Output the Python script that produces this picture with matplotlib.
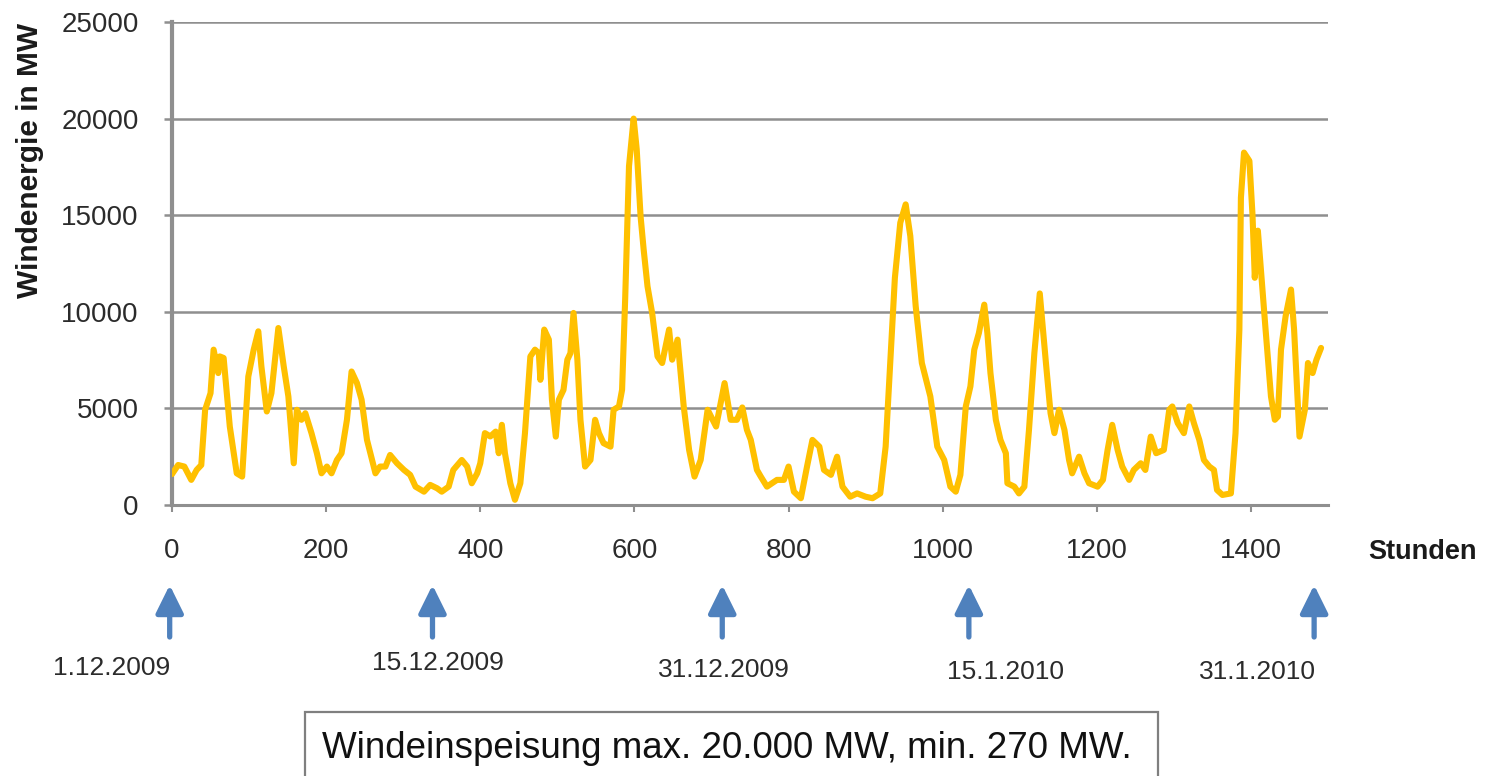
import matplotlib
matplotlib.use("Agg")
import matplotlib.pyplot as plt
from matplotlib.patches import Rectangle

plt.rcParams["font.family"] = ["Liberation Sans", "DejaVu Sans"]

# Stundenwerte der Windeinspeisung (Dezember 2009 - Januar 2010)
hours = [
    0, 8, 16, 25, 32, 38, 43, 50, 54, 60, 62, 67, 75, 84, 91, 99, 106, 112, 116, 123,
    129, 138, 145, 151, 158, 162, 168, 173, 181, 188, 194, 201, 207, 214, 220, 227,
    233, 240, 246, 253, 264, 270, 277, 283, 292, 301, 309, 316, 327, 335, 344, 350,
    359, 365, 376, 383, 389, 396, 400, 406, 413, 420, 424, 428, 432, 439, 445, 452,
    458, 465, 471, 476, 478, 483, 489, 493, 498, 502, 508, 513, 517, 521, 526, 530,
    536, 543, 549, 554, 560, 569, 573, 580, 584, 588, 593, 599, 603, 608, 612, 617,
    623, 630, 636, 645, 649, 656, 664, 671, 678, 686, 695, 706, 717, 725, 733, 740,
    746, 751, 759, 764, 772, 785, 794, 800, 807, 816, 824, 831, 840, 846, 855, 863,
    870, 880, 889, 900, 909, 919, 926, 932, 938, 945, 952, 958, 965, 973, 984, 993,
    1002, 1010, 1017, 1023, 1030, 1036, 1041, 1047, 1054, 1058, 1062, 1069, 1075,
    1082, 1084, 1093, 1099, 1106, 1112, 1119, 1126, 1134, 1140, 1145, 1151, 1158,
    1164, 1168, 1177, 1184, 1190, 1201, 1208, 1214, 1220, 1227, 1233, 1242, 1248,
    1257, 1263, 1270, 1277, 1287, 1294, 1298, 1305, 1313, 1320, 1326, 1333, 1339,
    1346, 1352, 1356, 1363, 1374, 1380, 1385, 1387, 1391, 1398, 1402, 1405, 1409,
    1413, 1419, 1426, 1431, 1435, 1439, 1445, 1452, 1456, 1463, 1470, 1474, 1480,
    1485, 1491,
]
wind_mw = [
    1600, 2070, 1990, 1300, 1815, 2070, 4930, 5790, 8040, 6830, 7690, 7610, 4060, 1640,
    1470, 6650, 8040, 8990, 7170, 4840, 5790, 9160, 7170, 5620, 2160, 4930, 4410, 4750,
    3720, 2680, 1640, 1990, 1640, 2330, 2680, 4410, 6910, 6310, 5450, 3370, 1640, 1990,
    1990, 2590, 2160, 1815, 1560, 950, 690, 1040, 865, 690, 950, 1815, 2330, 1990, 1125,
    1640, 2160, 3720, 3550, 3800, 2680, 4150, 2680, 1125, 270, 1125, 3720, 7690, 8040,
    7860, 6480, 9080, 8560, 5450, 3540, 5450, 5960, 7520, 7860, 9940, 7520, 4410, 1990,
    2330, 4410, 3720, 3200, 3020, 4930, 5100, 5960, 10630, 17540, 20000, 18410, 14950,
    13230, 11320, 9940, 7690, 7350, 9080, 7520, 8560, 5100, 2850, 1470, 2330, 4930,
    4060, 6310, 4410, 4410, 5050, 3890, 3370, 1815, 1470, 950, 1300, 1300, 1990, 690,
    350, 1990, 3370, 3020, 1815, 1560, 2500, 950, 430, 600, 430, 350, 600, 3020, 7350,
    11760, 14610, 15560, 13920, 10290, 7350, 5620, 3020, 2330, 950, 690, 1560, 5100,
    6140, 8040, 8900, 10370, 8900, 6830, 4410, 3370, 2680, 1125, 950, 600, 950, 3890,
    7870, 10950, 7350, 4750, 3720, 4930, 3890, 2330, 1640, 2500, 1640, 1125, 950, 1300,
    2850, 4150, 2850, 1990, 1300, 1815, 2160, 1815, 3540, 2680, 2850, 4930, 5100, 4240,
    3720, 5100, 4240, 3370, 2330, 1990, 1815, 780, 520, 600, 3720, 9080, 15910, 18240,
    17810, 15040, 11760, 14200, 12140, 9080, 5620, 4410, 4580, 8040, 9770, 11150, 9080,
    3540, 4930, 7350, 6830, 7520, 8130,
]

x_ticks = [0, 200, 400, 600, 800, 1000, 1200, 1400]
y_ticks = [0, 5000, 10000, 15000, 20000, 25000]

# Datumsmarken unter der Zeitachse
arrow_hours = [-3, 338, 714, 1034, 1482]
date_labels = ["1.12.2009", "15.12.2009", "31.12.2009", "15.1.2010", "31.1.2010"]
date_label_hours = [-78, 345, 716, 1081, 1409]
date_label_y = [108, 113, 106, 104, 104]

summary = "Windeinspeisung max. 20.000 MW, min. 270 MW."

W, H = 1500, 776
fig = plt.figure(figsize=(W / 100, H / 100), dpi=100)
ax = fig.add_axes([172 / W, (H - 505) / H, (1328 - 172) / W, (505 - 22) / H])

grid_col = "#8f8f8f"
text_col = "#2b2b2b"

ax.plot(hours, wind_mw, color="#ffc000", lw=4.4, solid_joinstyle="round",
        solid_capstyle="round", zorder=3)

ax.set_xlim(0, 1500)
ax.set_ylim(0, 25000)
ax.set_xticks(x_ticks)
ax.set_yticks(y_ticks)
ax.yaxis.grid(True, color=grid_col, lw=1.8)
ax.set_axisbelow(True)

for side in ["top", "right"]:
    ax.spines[side].set_visible(False)
ax.spines["left"].set_color(grid_col)
ax.spines["left"].set_linewidth(3)
ax.spines["bottom"].set_color(grid_col)
ax.spines["bottom"].set_linewidth(2.2)

ax.tick_params(axis="y", length=6, width=1.8, color=grid_col, pad=18,
               labelsize=20, labelcolor=text_col)
ax.tick_params(axis="x", length=5, width=1.5, color=grid_col, pad=19,
               labelsize=20, labelcolor=text_col)

fig.text(30 / W, 1 - 160 / H, "Windenergie in MW", rotation=90, ha="center",
         va="center", fontsize=21.5, fontweight="bold", color="#1a1a1a")
fig.text(1368 / W, 1 - 552 / H, "Stunden", ha="left", va="center",
         fontsize=19.5, fontweight="bold", color="#1a1a1a")

# Pfeile und Datumsangaben
for h in arrow_hours:
    ax.annotate("", xy=(h, H - 585), xycoords=("data", "figure pixels"),
                xytext=(h, H - 637), textcoords=("data", "figure pixels"),
                arrowprops=dict(arrowstyle="-|>,head_width=0.42,head_length=0.85",
                                lw=3.8, color="#4f81bd", mutation_scale=20,
                                shrinkA=0, shrinkB=0),
                annotation_clip=False)

for h, lab, yy in zip(date_label_hours, date_labels, date_label_y):
    ax.annotate(lab, xy=(h, yy), xycoords=("data", "figure pixels"),
                ha="center", va="center", fontsize=19, color=text_col,
                annotation_clip=False)

# Kasten mit Zusammenfassung
box = Rectangle((305 / W, -0.02), (1158 - 305) / W, (H - 712) / H + 0.02,
                transform=fig.transFigure, facecolor="white",
                edgecolor="#7f7f7f", lw=1.6, clip_on=False)
fig.add_artist(box)
fig.text(322 / W, 1 - 748 / H, summary, ha="left", va="center",
         fontsize=26.5, color="#111111")

fig.savefig("out.png", dpi=100)
